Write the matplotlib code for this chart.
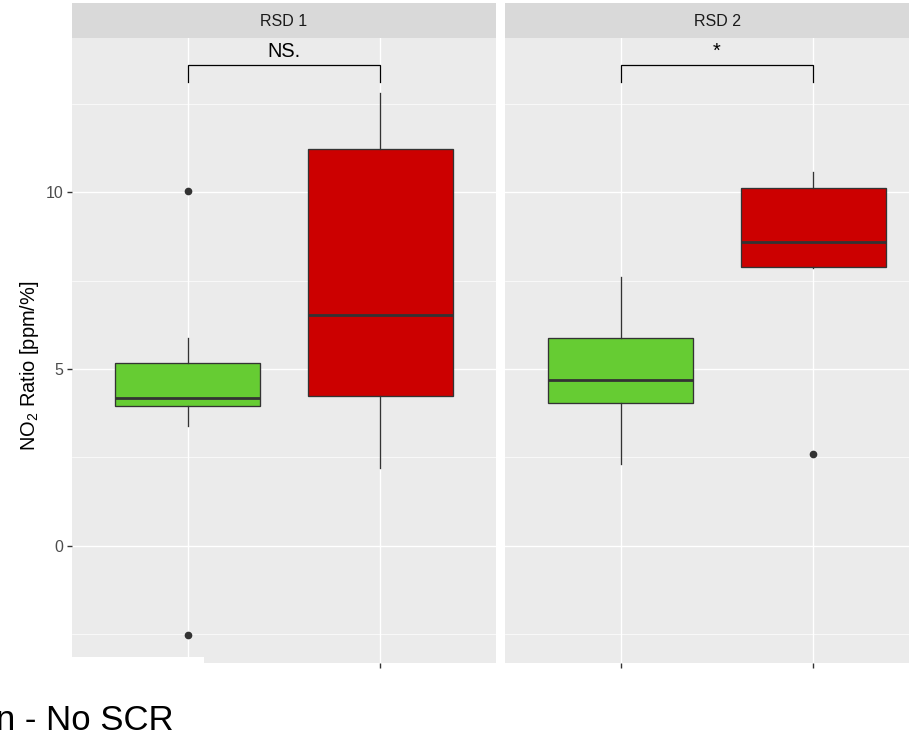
import matplotlib
matplotlib.use('Agg')
import matplotlib.pyplot as plt
from matplotlib.patches import Rectangle

plt.rcParams['font.family'] = ['Liberation Sans', 'DejaVu Sans']
plt.rcParams['mathtext.default'] = 'regular'

# ---------------- data ----------------
facets = ['RSD 1', 'RSD 2']
groups = ['No SCR', 'SCR']
box_colors = ['#66CC33', '#CC0000']

q1 = {'RSD 1': [3.96, 4.24], 'RSD 2': [4.03, 7.89]}
median = {'RSD 1': [4.18, 6.54], 'RSD 2': [4.69, 8.59]}
q3 = {'RSD 1': [5.16, 11.24], 'RSD 2': [5.89, 10.12]}
whisker_low = {'RSD 1': [3.39, 2.19], 'RSD 2': [2.31, 7.86]}
whisker_high = {'RSD 1': [5.87, 12.81], 'RSD 2': [7.61, 10.57]}
outliers = {'RSD 1': [[10.05, -2.54], []], 'RSD 2': [[], [2.60]]}

signif_labels = {'RSD 1': 'NS.', 'RSD 2': '*'}
bracket_top = 13.61
bracket_tip = 13.13

y_ticks = [0, 5, 10]
y_minor = [-2.5, 2.5, 7.5, 12.5]
y_label = 'NO$_2$ Ratio [ppm/%]'
legend_fragment = 'n - No SCR'

# ---------------- layout ----------------
W, H = 909, 741
fig = plt.figure(figsize=(W / 100, H / 100), dpi=100)
fig.patch.set_facecolor('white')

panel_x = [72, 505]
panel_w = 424
panel_top, panel_bot = 38, 663
strip_top = 3

for i, f in enumerate(facets):
    x0 = panel_x[i]
    ax = fig.add_axes([x0 / W, (H - panel_bot) / H, panel_w / W, (panel_bot - panel_top) / H])
    ax.set_facecolor('#EBEBEB')
    ax.set_axisbelow(True)
    for s in ax.spines.values():
        s.set_visible(False)

    stats = []
    for j, g in enumerate(groups):
        stats.append(dict(label=g, q1=q1[f][j], med=median[f][j], q3=q3[f][j],
                          whislo=whisker_low[f][j], whishi=whisker_high[f][j],
                          fliers=outliers[f][j]))
    bp = ax.bxp(stats, positions=[1, 2], widths=0.75, patch_artist=True,
                showcaps=False,
                boxprops=dict(edgecolor='#333333', linewidth=0.95),
                medianprops=dict(color='#333333', linewidth=2.0, solid_capstyle='butt'),
                whiskerprops=dict(color='#333333', linewidth=0.95),
                flierprops=dict(marker='o', markerfacecolor='#333333',
                                markeredgecolor='#333333', markersize=4.5))
    for patch, c in zip(bp['boxes'], box_colors):
        patch.set_facecolor(c)

    # significance bracket
    ax.plot([1, 1, 2, 2], [bracket_tip, bracket_top, bracket_top, bracket_tip],
            color='black', lw=0.9, solid_joinstyle='miter')
    ax.text(1.5, bracket_top + 0.12, signif_labels[f], ha='center', va='bottom',
            fontsize=14.4, color='black')

    ax.set_xlim(0.4, 2.6)
    ax.set_ylim(-3.32, 14.37)
    ax.set_xticks([1, 2])
    ax.set_xticklabels(['', ''])
    ax.set_yticks(y_ticks)
    ax.set_yticks(y_minor, minor=True)
    ax.grid(which='major', color='white', linewidth=1.0)
    ax.grid(which='minor', axis='y', color='white', linewidth=0.5)
    ax.tick_params(axis='x', length=3.6, width=1.0, color='#333333')
    ax.tick_params(axis='y', which='minor', length=0)
    if i == 0:
        ax.tick_params(axis='y', which='major', length=3.6, width=1.0, color='#333333',
                       labelcolor='#4D4D4D', labelsize=11.5, pad=2.5)
    else:
        ax.tick_params(axis='y', which='major', length=0, labelleft=False)

    # strip
    sax = fig.add_axes([x0 / W, (H - panel_top) / H, panel_w / W, (panel_top - strip_top) / H])
    sax.set_facecolor('#D9D9D9')
    sax.set_xticks([])
    sax.set_yticks([])
    for s in sax.spines.values():
        s.set_visible(False)
    sax.text(0.5, 0.47, f, ha='center', va='center', fontsize=11.5, color='#1A1A1A',
             transform=sax.transAxes)

fig.text(30 / W, 1 - 366 / H, y_label, rotation=90, ha='center', va='center',
         fontsize=14.4, color='black')

# white legend box overlapping the bottom-left corner
fig.add_artist(Rectangle((0, 0), 204 / W, (H - 657) / H, transform=fig.transFigure,
                         facecolor='white', edgecolor='none', zorder=10))
fig.text(-4 / W, (H - 730) / H, legend_fragment, ha='left', va='baseline',
         fontsize=25, color='black', zorder=11)

fig.savefig('out.png', dpi=100)
